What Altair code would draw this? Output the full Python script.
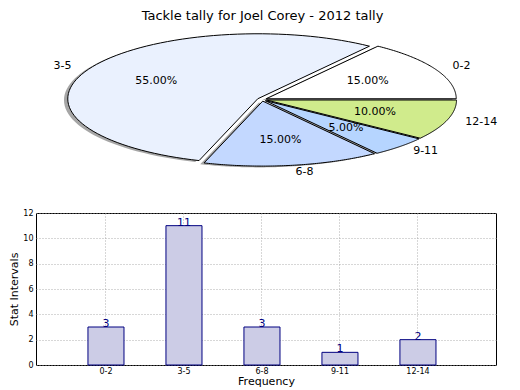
import altair as alt
import pandas as pd

# ---- data ----
categories = ["0-2", "3-5", "6-8", "9-11", "12-14"]
tackles = [3, 11, 3, 1, 2]
title_text = "Tackle tally for Joel Corey - 2012 tally"
y_ticks = [0, 2, 4, 6, 8, 10, 12]

# ---- styles / layout ----
slice_colors = ["#FFFFFF", "#EAF1FE", "#C3D8FF", "#B6D5FF", "#D0EB8C"]
FONT = "DejaVu Sans"
BAR_W, BAR_H = 460, 152
PIE_X0, PIE_W = 33, BAR_W     # page pixels covered by the pie panel
PIE_Y0, PIE_H = 8, 194
CX, CY, RX, RY = 259, 99.5, 190, 65
EXPLODE = 0.025
SHADOW_DX, SHADOW_DY = -3.8, 1.3
NSEG = 80

df = pd.DataFrame({"cat": categories, "n": tackles, "idx": list(range(len(categories)))})

xs = alt.Scale(domain=[PIE_X0, PIE_X0 + PIE_W], nice=False, zero=False)
ys = alt.Scale(domain=[PIE_Y0, PIE_Y0 + PIE_H], nice=False, zero=False, reverse=True)

base = (
    alt.Chart(df)
    .transform_joinaggregate(total="sum(n)")
    .transform_window(cum="sum(n)", sort=[alt.SortField("idx")], frame=[None, 0])
    .transform_calculate(a0="2*PI*(datum.cum - datum.n)/datum.total")
    .transform_calculate(a1="2*PI*datum.cum/datum.total")
    .transform_calculate(mid="(datum.a0 + datum.a1)/2")
    .transform_calculate(ox=f"{CX} + {EXPLODE * RX}*cos(datum.mid)")
    .transform_calculate(oy=f"{CY} - {EXPLODE * RY}*sin(datum.mid)")
)

pts = (
    base.transform_calculate(k=f"sequence(0, {NSEG + 2})")
    .transform_flatten(["k"])
    .transform_calculate(ang=f"datum.a0 + (datum.a1 - datum.a0)*max(0, datum.k - 1)/{NSEG}")
    .transform_calculate(px=f"datum.k == 0 ? datum.ox : datum.ox + {RX}*cos(datum.ang)")
    .transform_calculate(py=f"datum.k == 0 ? datum.oy : datum.oy - {RY}*sin(datum.ang)")
)

shadow = (
    pts.transform_calculate(sx=f"datum.px + {SHADOW_DX}")
    .transform_calculate(sy=f"datum.py + {SHADOW_DY}")
    .mark_line(interpolate="linear-closed", fill="#4d4d4d", fillOpacity=0.5, strokeOpacity=0)
    .encode(
        x=alt.X("sx:Q", scale=xs, axis=None),
        y=alt.Y("sy:Q", scale=ys, axis=None),
        order="k:Q",
        detail="cat:N",
    )
)

wedges = pts.mark_line(interpolate="linear-closed", stroke="black", strokeWidth=1).encode(
    x=alt.X("px:Q", scale=xs, axis=None),
    y=alt.Y("py:Q", scale=ys, axis=None),
    order="k:Q",
    detail="cat:N",
    fill=alt.Fill("cat:N", scale=alt.Scale(domain=categories, range=slice_colors), legend=None),
)

lab = (
    base.transform_calculate(lx=f"datum.ox + {1.1 * RX}*cos(datum.mid)")
    .transform_calculate(ly=f"datum.oy - {1.1 * RY}*sin(datum.mid)")
    .transform_calculate(side="cos(datum.mid) >= 0 ? 'r' : 'l'")
)
lab_enc = dict(
    x=alt.X("lx:Q", scale=xs, axis=None),
    y=alt.Y("ly:Q", scale=ys, axis=None),
    text="cat:N",
)
lab_r = lab.transform_filter("datum.side == 'r'").mark_text(
    align="left", baseline="middle", font=FONT, fontSize=11, color="black"
).encode(**lab_enc)
lab_l = lab.transform_filter("datum.side == 'l'").mark_text(
    align="right", baseline="middle", font=FONT, fontSize=11, color="black"
).encode(**lab_enc)

pct = (
    base.transform_calculate(tx=f"datum.ox + {0.6 * RX}*cos(datum.mid)")
    .transform_calculate(ty=f"datum.oy - {0.6 * RY}*sin(datum.mid)")
    .transform_calculate(pct="format(datum.n/datum.total, '.2%')")
    .mark_text(align="center", baseline="middle", font=FONT, fontSize=11, color="black")
    .encode(
        x=alt.X("tx:Q", scale=xs, axis=None),
        y=alt.Y("ty:Q", scale=ys, axis=None),
        text="pct:N",
    )
)

title = (
    alt.Chart(pd.DataFrame({"t": [title_text]}))
    .mark_text(align="center", baseline="top", font=FONT, fontSize=13, color="black")
    .encode(text="t:N", x=alt.value(259.5 - PIE_X0), y=alt.value(2))
)

pie = alt.layer(shadow, wedges, lab_r, lab_l, pct, title).properties(width=PIE_W, height=PIE_H)

# ---- bar chart ----
axis_common = dict(
    labelFont=FONT, labelFontSize=8, labelColor="black", titleFont=FONT, titleFontSize=11,
    titleFontWeight="normal", titleColor="black", ticks=False, domain=False, grid=True,
    gridDash=[1, 2], gridColor="#999999", gridWidth=0.8,
)

bar_base = alt.Chart(df).encode(
    x=alt.X(
        "cat:N",
        sort=categories,
        scale=alt.Scale(paddingInner=0.538, paddingOuter=0.718, align=0.464),
        axis=alt.Axis(title="Frequency", labelAngle=0, labelPadding=2, titlePadding=0,
                      bandPosition=0.5, **axis_common),
    ),
    y=alt.Y(
        "n:Q",
        scale=alt.Scale(domain=[0, 12], nice=False),
        axis=alt.Axis(values=y_ticks, title="Stat Intervals", labelPadding=3, titlePadding=3,
                      **axis_common),
    ),
)
bars = bar_base.mark_bar(fill="#CCCCE6", stroke="#000080", strokeWidth=1)
vals = bar_base.mark_text(color="#000080", font=FONT, fontSize=11, baseline="alphabetic", dy=0).encode(
    text="n:Q"
)
bar_chart = alt.layer(bars, vals).properties(
    width=BAR_W, height=BAR_H, view=alt.ViewBackground(stroke="black", strokeWidth=1)
)

chart = (
    alt.vconcat(pie, bar_chart, spacing=6)
    .properties(padding=0, background="white")
    .configure_view(stroke=None)
)

chart.save("out.html", embed_options={"renderer": "svg", "actions": False})
